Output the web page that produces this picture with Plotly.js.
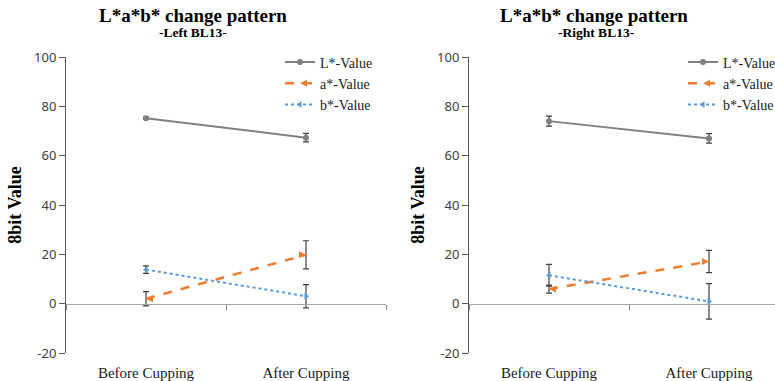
<!DOCTYPE html>
<html>
<head>
<meta charset="utf-8">
<script src="https://cdn.plot.ly/plotly-3.0.1.min.js"></script>
<style>
html,body{margin:0;padding:0;background:#fff;overflow:hidden;}
#wrap{width:775px;height:381px;overflow:hidden;}
#chart{width:800px;height:381px;}
</style>
</head>
<body>
<div id="wrap"><div id="chart"></div></div>
<script>
// ---- data ----
const categories = ['Before Cupping', 'After Cupping'];
const seriesNames = ['L*-Value', 'a*-Value', 'b*-Value'];

// Left BL13
const leftL = [75.2, 67.3];
const leftLErr = [0.5, 1.7];
const leftA = [2.0, 19.8];
const leftAErr = [2.9, 5.7];
const leftB = [13.8, 3.0];
const leftBErr = [1.5, 4.7];

// Right BL13
const rightL = [74.0, 67.0];
const rightLErr = [2.0, 1.9];
const rightA = [5.9, 17.1];
const rightAErr = [1.6, 4.5];
const rightB = [11.5, 0.9];
const rightBErr = [4.4, 7.2];

const yTicks = [-20, 0, 20, 40, 60, 80, 100];
const yTickLabels = ['-20', '0', '20', '40', '60', '80', '100'];

// ---- styles ----
const W = 800, H = 381, mT = 57, mB = 28;
const plotH = H - mT - mB;
const serif = 'Liberation Serif';
const sans = 'Noto Sans';
const styles = [
  {color: '#808080', dash: 'solid', width: 2, symbol: ['circle', 'circle'], size: 6},
  {color: '#ED7D31', dash: 'dash', width: 2.5, symbol: ['arrow-left', 'arrow-right'], size: 7},
  {color: '#5B9BD5', dash: 'dot', width: 2, symbol: ['triangle-left', 'triangle-right'], size: 6}
];
// pixel -> paper helpers (paper spans the area inside margins)
const px = v => v / W;
const py = v => (H - mB - v) / plotH;

function makeTraces(vals, errs, xa, ya, leg) {
  return vals.map((v, i) => ({
    type: 'scatter', mode: 'lines+markers',
    x: categories, y: v, name: seriesNames[i],
    xaxis: xa, yaxis: ya, legend: leg,
    line: {color: styles[i].color, dash: styles[i].dash, width: styles[i].width},
    marker: {color: styles[i].color, symbol: styles[i].symbol, size: styles[i].size},
    error_y: {type: 'data', array: errs[i], visible: true, color: '#404040', thickness: 1.2, width: 3}
  }));
}

const data = [
  ...makeTraces([leftL, leftA, leftB], [leftLErr, leftAErr, leftBErr], 'x', 'y', 'legend'),
  ...makeTraces([rightL, rightA, rightB], [rightLErr, rightAErr, rightBErr], 'x2', 'y2', 'legend2')
];

const yRange = [-20, 100];
const zeroPos = (0 - yRange[0]) / (yRange[1] - yRange[0]);

function xAxis(dom) {
  return {
    domain: dom, anchor: 'free', position: zeroPos,
    type: 'category', range: [-0.5, 1.5], fixedrange: true,
    showline: true, linecolor: '#a6a6a6', linewidth: 1.8,
    ticks: 'outside', tickson: 'boundaries', ticklen: 5, tickcolor: '#7f7f7f',
    showgrid: false, zeroline: false,
    ticklabelstandoff: 55,
    tickfont: {family: serif, size: 15, color: '#1a1a1a'}
  };
}
function yAxis(xname) {
  return {
    anchor: xname, domain: [0, 1], range: yRange,
    tickmode: 'array', tickvals: yTicks, ticktext: yTickLabels,
    showline: true, linecolor: '#595959', linewidth: 1,
    ticks: 'outside', ticklen: 6, tickcolor: '#595959',
    showgrid: false, zeroline: false,
    tickfont: {family: sans, size: 13, color: '#404040'},
    title: {text: '<b>8bit Value</b>', standoff: 7, font: {family: serif, size: 18, color: '#000'}}
  };
}

const legendBase = {
  font: {family: serif, size: 14, color: '#1a1a1a'},
  bgcolor: 'rgba(0,0,0,0)', xanchor: 'left', yanchor: 'top',
  tracegroupgap: 0, itemwidth: 30, traceorder: 'normal'
};

const layout = {
  width: W, height: H,
  font: {family: serif},
  margin: {l: 0, r: 0, t: mT, b: mB, autoexpand: false},
  paper_bgcolor: '#fff', plot_bgcolor: 'rgba(0,0,0,0)',
  showlegend: true,
  xaxis: xAxis([px(66), px(386)]),
  yaxis: yAxis('x'),
  xaxis2: xAxis([px(469), px(789)]),
  yaxis2: yAxis('x2'),
  legend: Object.assign({}, legendBase, {x: px(280), y: py(46.5)}),
  legend2: Object.assign({}, legendBase, {x: px(683), y: py(46.5)}),
  annotations: [
    {text: '<b>L*a*b* change pattern</b>', x: px(193), y: py(15), xref: 'paper', yref: 'paper',
     showarrow: false, xanchor: 'center', yanchor: 'middle', font: {family: serif, size: 19, color: '#000'}},
    {text: '<b>-Left BL13-</b>', x: px(193), y: py(33), xref: 'paper', yref: 'paper',
     showarrow: false, xanchor: 'center', yanchor: 'middle', font: {family: serif, size: 13.5, color: '#000'}},
    {text: '<b>L*a*b* change pattern</b>', x: px(594), y: py(15), xref: 'paper', yref: 'paper',
     showarrow: false, xanchor: 'center', yanchor: 'middle', font: {family: serif, size: 19, color: '#000'}},
    {text: '<b>-Right BL13-</b>', x: px(596), y: py(33), xref: 'paper', yref: 'paper',
     showarrow: false, xanchor: 'center', yanchor: 'middle', font: {family: serif, size: 13.5, color: '#000'}}
  ]
};

Plotly.newPlot('chart', data, layout, {displayModeBar: false, staticPlot: true});
</script>
</body>
</html>
